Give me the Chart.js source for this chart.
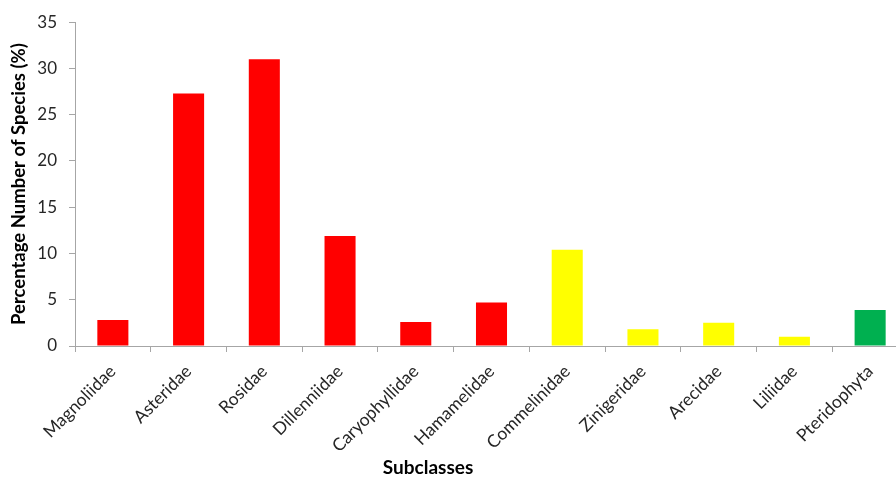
<!DOCTYPE html>
<html>
<head>
<meta charset="utf-8">
<script src="https://cdn.jsdelivr.net/npm/chart.js@4"></script>
<style>
html,body{margin:0;padding:0;background:#fff;overflow:hidden;}
#wrap{width:908px;height:477px;}
</style>
</head>
<body>
<div id="wrap"><canvas id="c" width="908" height="477"></canvas></div>
<script>
const categories = ["Magnoliidae","Asteridae","Rosidae","Dillenniidae","Caryophyllidae","Hamamelidae","Commelinidae","Zinigeridae","Arecidae","Liliidae","Pteridophyta"];
const percentages = [2.8, 27.3, 31.0, 11.9, 2.6, 4.7, 10.4, 1.8, 2.5, 1.0, 3.9];
const barColors = ["#FF0000","#FF0000","#FF0000","#FF0000","#FF0000","#FF0000","#FFFF00","#FFFF00","#FFFF00","#FFFF00","#00B050"];
const yTicks = [0,5,10,15,20,25,30,35];
const xTitle = "Subclasses";
const yTitle = "Percentage Number of Species (%)";

const axisColor = "#A6A6A6";
const textColor = "#262626";
const FONT = "Lato";

// Draws the x-axis title centred on the whole chart (as in the original), below the tick labels
const xTitlePlugin = {
  id: "xTitlePlugin",
  afterDraw(chart) {
    const ctx = chart.ctx;
    ctx.save();
    ctx.font = "bold 19px " + FONT;
    ctx.fillStyle = "#000";
    ctx.textAlign = "center";
    ctx.textBaseline = "alphabetic";
    ctx.fillText(xTitle, 428, 474);
    ctx.restore();
  }
};

new Chart(document.getElementById("c"), {
  type: "bar",
  data: {
    labels: categories,
    datasets: [{
      data: percentages,
      backgroundColor: barColors,
      borderWidth: 0,
      barPercentage: 0.41,
      categoryPercentage: 1.0
    }]
  },
  plugins: [xTitlePlugin],
  options: {
    responsive: false,
    animation: false,
    devicePixelRatio: 1,
    layout: { padding: { top: 21, right: 0, bottom: 0, left: 0 } },
    plugins: { legend: { display: false }, tooltip: { enabled: false } },
    scales: {
      x: {
        offset: true,
        grid: { display: true, offset: true, drawOnChartArea: false, color: axisColor, tickLength: 6, tickColor: axisColor },
        border: { display: true, color: axisColor, width: 1 },
        ticks: { color: textColor, font: { family: FONT, size: 17.5 }, minRotation: 45, maxRotation: 45, padding: 9, autoSkip: false },
        title: { display: false },
        afterFit: (s) => { s.height = 131; }
      },
      y: {
        min: 0, max: 35,
        afterBuildTicks: (s) => { s.ticks = yTicks.map(v => ({ value: v })); },
        grid: { display: true, drawOnChartArea: false, color: axisColor, tickLength: 6, tickColor: axisColor },
        border: { display: true, color: axisColor, width: 1 },
        ticks: { color: textColor, font: { family: FONT, size: 17 }, padding: 12 },
        title: { display: true, text: yTitle, color: "#000", font: { family: FONT, size: 18.5, weight: "bold" }, padding: { top: 8, bottom: 0 } },
        afterFit: (s) => { s.width = 75; }
      }
    }
  }
});
</script>
</body>
</html>
